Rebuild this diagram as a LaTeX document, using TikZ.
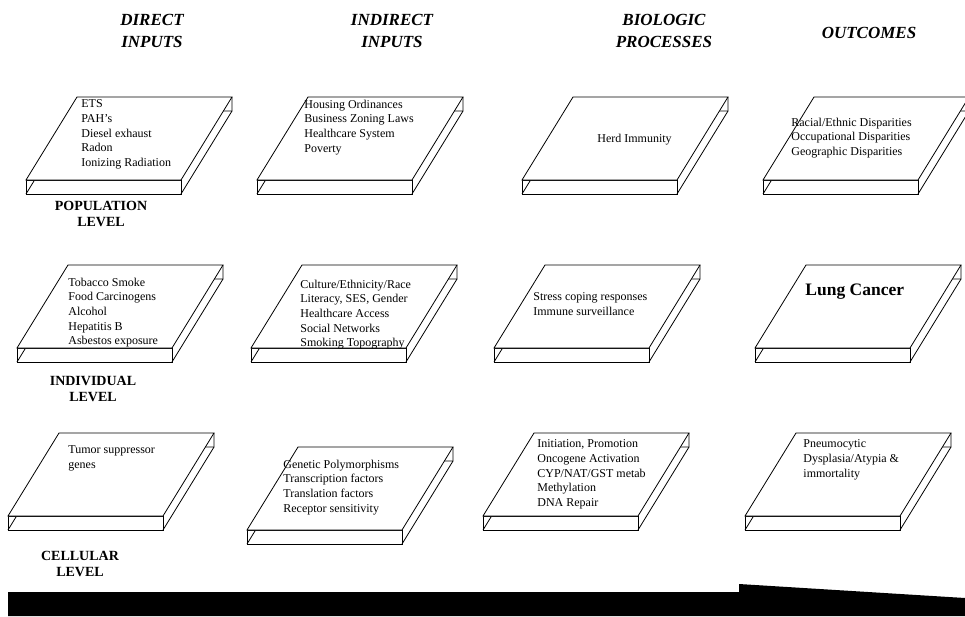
\documentclass[tikz,border=0pt]{standalone}
\usepackage{fontspec}
\setmainfont{Liberation Serif}
\usepackage{tikz}
\definecolor{koyu}{HTML}{000000}

% flat 3D slab: #1,#2 = top left corner of the front face (pixel units)
\newcommand{\slab}[2]{%
  \draw[koyu] (#1,#2) rectangle ++(155,14);
  \draw[koyu] (#1+155,#2+14) -- ++(51,-83) -- ++(0,-14);
  \draw[koyu] (#1,#2+14) -- ++(51,-83) -- ++(155,0);
  \filldraw[koyu,fill=white] (#1,#2) -- ++(155,0) -- ++(51,-83) -- ++(-155,0) -- cycle;
}

\begin{document}
\begin{tikzpicture}[x=1pt,y=-1pt,line width=0.8pt,
  items/.style={anchor=north west,align=left,inner sep=0pt,font=\fontsize{12}{14.6}\selectfont},
  kolon/.style={align=center,inner sep=0pt,font=\fontsize{17}{22}\selectfont\bfseries\itshape},
  seviye/.style={align=center,inner sep=0pt,font=\fontsize{14}{16}\selectfont\bfseries}]
\useasboundingbox[fill=white] (0,0) rectangle (965,616);

% column headers
\node[kolon] (hDirect) at (152,31) {DIRECT\\INPUTS};
\node[kolon] (hIndirect) at (392,31) {INDIRECT\\INPUTS};
\node[kolon] (hBio) at (664,31) {BIOLOGIC\\PROCESSES};
\node[kolon] (hOut) at (869,33) {OUTCOMES};

% slabs
\foreach \sx/\sy in {26/180,257/180,522/180,763/180,
                     17/348,251/348,494/348,755/348,
                     8/516,247/530,483/516,745/516}{
  \slab{\sx}{\sy}
}

% population level
\node[items] (popDirect) at (81,99.5) {ETS\\PAH's\\Diesel exhaust\\Radon\\Ionizing Radiation};
\node[items] (popIndirect) at (304,99.5) {Housing Ordinances\\Business Zoning Laws\\Healthcare System\\Poverty};
\node[items] (popBio) at (597,133.5) {Herd Immunity};
\node[items] (popOut) at (791,117.5) {Racial/Ethnic Disparities\\Occupational Disparities\\Geographic Disparities};
\node[seviye] (popLevel) at (101,214) {POPULATION\\LEVEL};

% individual level
\node[items] (indDirect) at (68,277.5) {Tobacco Smoke\\Food Carcinogens\\Alcohol\\Hepatitis B\\Asbestos exposure};
\node[items] (indIndirect) at (300,279.5) {Culture/Ethnicity/Race\\Literacy, SES, Gender\\Healthcare Access\\Social Networks\\Smoking Topography};
\node[items] (indBio) at (533,292.5) {Stress coping responses\\Immune surveillance};
\node[items,font=\fontsize{17.5}{20}\selectfont\bfseries] (indOut) at (805,284) {Lung Cancer};
\node[seviye] (indLevel) at (93,389) {INDIVIDUAL\\LEVEL};

% cellular level
\node[items] (celDirect) at (68,445.5) {Tumor suppressor\\genes};
\node[items] (celIndirect) at (283,459.5) {Genetic Polymorphisms\\Transcription factors\\Translation factors\\Receptor sensitivity};
\node[items] (celBio) at (537,439.5) {Initiation, Promotion\\Oncogene Activation\\CYP/NAT/GST metab\\Methylation\\DNA Repair};
\node[items] (celOut) at (803,439.5) {Pneumocytic\\Dysplasia/Atypia \&\\immortality};
\node[seviye] (celLevel) at (80,564) {CELLULAR\\LEVEL};

% time arrow
\fill[koyu] (8,592) -- (739,592) -- (739,584) -- (965,598) -- (965,616) -- (8,616) -- cycle;
\end{tikzpicture}
\end{document}
